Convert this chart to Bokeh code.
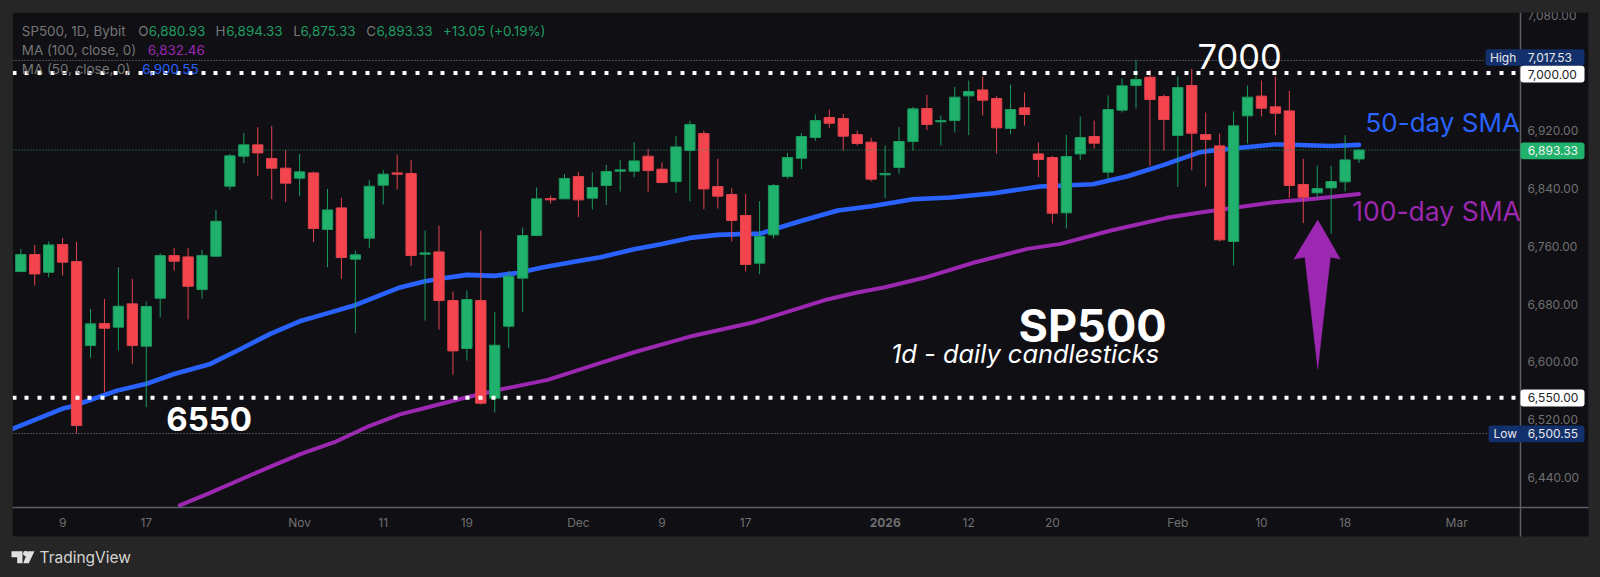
from bokeh.plotting import figure
from bokeh.models import (ColumnDataSource, FixedTicker, NumeralTickFormatter, Label, BoxAnnotation,
                          PolyAnnotation, Range1d)
from bokeh.embed import file_html
from bokeh.resources import INLINE

# ---------- data (prices) ----------
opens = [6725,6748.5,6724,6762.4,6738.8,6622.4,6652.9,6647.8,6680.2,6621.5,6688,6747.1,6745.3,6700,6746.2,6843.2,6884.8,6900.5,6881.6,6868.2,
         6854.3,6861.7,6783.2,6813.2,6742.1,6771.2,6844.6,6861.7,6860.8,6749,6752.2,6684.8,6618.3,6684.8,6549.5,6649.2,6715.8,6774.9,6826.1,6825.7,
         6856.6,6826.6,6844.2,6864,6864,6884.8,6866.8,6849.7,6892.7,6916.2,6842.8,6831.7,6802.6,6736.5,6775.8,6856.6,6882,6910.7,6938.4,6937,
         6914.8,6904.2,6859,6869.1,6905.2,6950.9,6932.4,6934.2,6968.4,6976.7,6964.7,6923.2,6951.8,6888,6883,6806.3,6888,6912.1,6862.7,6948.6,
         6982.7,6994.3,6967.5,6913.5,6982.7,6914.8,6899.1,6766.6,6940.7,6968,6953.2,6947.6,6845.6,6834,6840.9,6849.3,6880.93]
highs = [6756.4,6761.9,6766.5,6771.6,6766.1,6673.2,6687.1,6731,6714.8,6683.4,6750.4,6757.8,6757.8,6755,6810.4,6888,6917.1,6925,6926.8,6893.6,
         6888,6863.5,6839.5,6827,6754.1,6852,6865.9,6887.1,6879.7,6781.8,6788.7,6697.3,6698.7,6781.8,6669.1,6725.9,6786,6841.4,6830.3,6860.3,
         6863.1,6862.2,6872.8,6879.7,6904.2,6895,6876,6912.5,6933.8,6920.4,6881.1,6840.5,6832.2,6822.5,6846.5,6889.4,6917.1,6942.6,6949.5,6943.5,
         6920.4,6910.2,6899.6,6925,6953.2,6969.8,6941.2,6980.9,6989.7,6995.2,6968,6984.1,6973,6903.8,6885.3,6914.4,6939.8,6934.2,6968.9,6992.4,
         7017.53,7004.5,6970.3,6995.2,7005.8,6945.3,6916.2,6946.7,6982.7,6989.7,6995.2,6975.4,6881.1,6871.9,6871.4,6913.9,6894.33]
lows = [6724,6705.6,6717.1,6719.4,6500.55,6605.3,6557.8,6615.5,6597,6537,6661.7,6726.4,6658.5,6687.1,6746.2,6838.1,6875.1,6857.1,6825.2,6821.1,
        6829.4,6765.6,6731,6714.8,6639.5,6757.8,6817.8,6838.6,6732.8,6657.1,6644.6,6582.3,6601.7,6540.7,6529.6,6618.7,6668.6,6774,6819.2,6825.7,
        6800.3,6810.9,6816.9,6835.8,6855.7,6835.8,6847.4,6834,6822.4,6811.4,6812.3,6766.6,6725,6721.3,6770.7,6853.9,6866.8,6906.1,6924.1,6892.7,
        6899.6,6849.7,6826.6,6860.8,6892.7,6920.9,6899.6,6917.6,6913.9,6941.2,6888.5,6915.3,6927.3,6855.7,6791.5,6784.6,6879.7,6895.4,6852.5,6945.3,
        6950.9,6871.4,6892.7,6842.3,6865.4,6842.8,6766.6,6733.3,6902.4,6939.8,6913.9,6826.6,6792,6827.1,6777.2,6835.9,6875.33]
closes = [6748.5,6721.7,6761.9,6737.9,6511.6,6652.5,6646.4,6676.9,6622.4,6676.5,6747.1,6739.3,6704.6,6747.1,6794.7,6885.3,6900.5,6889.4,6868.2,6847.4,
          6863.1,6784.6,6810.4,6744.4,6748.1,6843.2,6859.9,6859.9,6747.2,6750.8,6684.8,6615,6686.2,6542.5,6622.9,6718.5,6774.9,6825.7,6824.3,6853.9,
          6824.3,6841.4,6863.6,6865.9,6878.3,6864.9,6848.3,6897.7,6928.7,6839.5,6829.4,6795.7,6734.7,6773.5,6844.2,6883,6912.1,6934.2,6930.5,6912.5,
          6902.4,6853,6860.8,6905.2,6950.4,6928.7,6934.2,6966.6,6974.4,6962.4,6924.1,6949.5,6942.6,6880.2,6805.8,6884.4,6910.7,6902.8,6949.5,6982.3,
          6991.1,6963.3,6935.6,6980,6916.7,6907.9,6768.9,6926.9,6966.6,6951.3,6944.4,6844.2,6828,6840,6849.7,6879.7,6893.33]

ma50_x = [-0.6,3.1,3.7,6.9,9.1,11,13.6,15.7,17.9,20,22.1,23.9,27.2,29,30.3,32,34,35.6,37.5,40.1,41.6,44,46,48,50,52.1,53,54.5,55.9,
          58.6,61,64,66.7,69.8,73.1,76.9,79.4,82,84.6,85.1,87.5,89.9,90.6,94,96]
ma50_y = [6507,6535.6,6538.4,6560,6570,6583,6597,6617,6638.6,6656,6667.7,6677.9,6703,6711.6,6715.8,6720.4,6719,6723,6731,6739.8,6744.8,6756,6763.3,6771.6,6775.8,6777.2,6777.2,6786.4,6794.7,
          6809.5,6815.5,6825.2,6827.5,6833.5,6842.8,6846,6857.1,6872.8,6890.4,6891.8,6896.4,6901,6901,6899,6900.55]
ma100_x = [11.4,13.4,17.7,20.1,22.5,24.8,27.2,29.2,32,34.4,37.8,41.6,44,48,52.6,55.9,57.85,60,62,64.8,68.4,72.2,74.6,78.2,82.2,84.6,89.9,93,96]
ma100_y = [6401,6416.9,6452.9,6472.3,6488.5,6509.3,6527,6537,6550.8,6561.5,6574.9,6598.4,6613.2,6634.9,6654.8,6674.6,6686.3,6696,6703.3,6716.3,6737.5,6756.4,6763.3,6781.8,6799.4,6806.8,6821,6826.2,6832.46]

time_ticks = [3,9,20,26,32,40,46,52,62,68,74,83,89,95,103]
time_labels = ["9","17","Nov","11","19","Dec","9","17","","12","20","Feb","10","18","Mar"]
price_ticks = [7080,6920,6840,6760,6680,6600,6520,6440]
levels = [7000, 6550]
high_price, low_price, last_price = 7017.53, 6500.55, 6893.33

# ---------- page-pixel <-> scale helpers ----------
X0, DX, Y0, DY = 20.3, 13.94, 130.3, 1.3856
def fx(px): return (px - X0) / DX
def fy(py): return 6920 - (py - Y0) * DY

BG = "#0f0f14"; OUTER = "#262626"; GRID = "#1f2026"; AX = "#5d5f66"; TICK = "#707070"
GREEN = "#20b26c"; RED = "#f4454f"; BLUE = "#2962ff"; PURPLE = "#9c27b0"; NAVY = "#12306b"
F = "Inter"

p = figure(width=1600, height=577, output_backend="svg", toolbar_location=None, tools="",
           x_range=Range1d(fx(0), fx(1600)), y_range=Range1d(fy(577), fy(0)),
           y_axis_location="right", min_border_left=0, min_border_right=0, min_border_top=0, min_border_bottom=0,
           background_fill_color=OUTER, border_fill_color=OUTER, outline_line_color=None)

def box(l, r, t, b, c, rad=0, level="annotation"):
    p.add_layout(BoxAnnotation(left=l, right=r, top=t, bottom=b, left_units="canvas", right_units="canvas",
                               top_units="canvas", bottom_units="canvas", fill_color=c, fill_alpha=1,
                               line_alpha=0, border_radius=rad, level=level))

# chart panel
box(12, 1588, 12, 536, BG, level="underlay")

# axes / grid
ya = p.yaxis[0]; xa = p.xaxis[0]
ya.ticker = FixedTicker(ticks=price_ticks)
ya.formatter = NumeralTickFormatter(format="0,0.00")
ya.fixed_location = fx(1520)
ya.bounds = (fy(536), fy(12))
xa.ticker = FixedTicker(ticks=time_ticks)
xa.major_label_overrides = dict(zip(time_ticks, time_labels))
xa.fixed_location = fy(507)
xa.bounds = (fx(12), fx(1588))
for a in (xa, ya):
    a.axis_line_color = AX
    a.axis_line_width = 1.5
    a.major_tick_line_color = None
    a.minor_tick_line_color = None
    a.major_label_text_color = TICK
    a.major_label_text_font = F
    a.major_label_text_font_size = "12px"
ya.major_label_standoff = 1
xa.major_label_standoff = 1
p.xgrid.ticker = FixedTicker(ticks=time_ticks)
p.ygrid.ticker = FixedTicker(ticks=price_ticks + [7000])
p.xgrid.grid_line_color = GRID; p.ygrid.grid_line_color = GRID

# panels that hide the grid outside the plotting area (painted over the grid, under the marks)
box(12, 1588, 507, 536, BG, level="glyph")
box(1520, 1588, 12, 536, BG, level="glyph")
box(0, 1600, 536, 577, OUTER, level="glyph")
box(1588, 1600, 0, 577, OUTER, level="glyph")
box(0, 12, 0, 577, OUTER, level="glyph")

# moving averages under the candles
p.line(ma100_x, ma100_y, line_color=PURPLE, line_width=4, line_cap="round", line_join="round")
p.line(ma50_x, ma50_y, line_color=BLUE, line_width=4.6, line_cap="round", line_join="round")

# candles
idx = list(range(len(opens)))
up = [c >= o for o, c in zip(opens, closes)]
src = ColumnDataSource(dict(x=idx, o=opens, h=highs, l=lows, c=closes,
    top=[max(o, c) for o, c in zip(opens, closes)], bot=[min(o, c) for o, c in zip(opens, closes)],
    fill=[GREEN if u else RED for u in up], edge=["#1b9a5e" if u else "#e2434d" for u in up]))
p.segment("x", "h", "x", "l", source=src, line_color="edge", line_width=1)
p.vbar("x", 0.74, "top", "bot", source=src, fill_color="fill", line_color="edge", line_width=1)

# price lines
xs_full = [fx(12), fx(1518)]
p.line([fx(12), fx(1520)], [last_price]*2, line_color="#1f9d62", line_width=1, line_dash="1 2")
p.line([fx(12), fx(1485)], [high_price]*2, line_color="#8a8a8a", line_width=1, line_dash="1 2")
p.line([fx(12), fx(1488)], [low_price]*2, line_color="#8a8a8a", line_width=1, line_dash="1 2")
for lv in levels:
    p.line(xs_full, [lv]*2, line_color="#ffffff", line_width=4, line_dash="4 8 4 9 4 9 4 8 4 9")

# arrow
arrow_x = [93.04, 94.66, 93.95, 93.04, 92.11, 91.32]
arrow_y = [6796.7, 6742.1, 6744.9, 6589.3, 6744.9, 6742.1]
p.add_layout(PolyAnnotation(xs=arrow_x, ys=arrow_y, fill_color=PURPLE, fill_alpha=1, line_color=PURPLE, line_width=1, line_join="round"))

def text(s, x, y, size, color, style="normal", align="left"):
    p.add_layout(Label(x=x, y=y, x_units="canvas", y_units="canvas", text=s, text_color=color, text_font=F,
                       text_font_size=f"{size}px", text_font_style=style, text_align=align, text_baseline="middle"))

# masks that reproduce the panel's clipping at its edges
box(0, 12, 0, 577, OUTER)
box(0, 1600, 0, 12, OUTER)

# tags on the price scale
for l, r, t, b, c in [(1485, 1584, 48.7, 65.3, NAVY), (1520, 1584, 65.3, 82, "#ffffff"),
                      (1520, 1584, 142, 158.7, GREEN), (1520, 1584, 389, 406, "#ffffff"),
                      (1488, 1584, 425, 441.7, NAVY)]:
    box(l, r, t, b, c, 3)
text("High", 1489.5, 57, 12, "#e8e8e8")
text("7,017.53", 1527.3, 57, 12, "#e8e8e8")
text("7,000.00", 1527.3, 73.6, 12, "#222222")
text("6,893.33", 1527.3, 150.3, 12, "#f0f0f0")
text("6,550.00", 1527.3, 397.3, 12, "#222222")
text("Low", 1493, 433.4, 12, "#e8e8e8")
text("6,500.55", 1527.3, 433.2, 12, "#e8e8e8")

# header legend
GL = "#767676"
for s, x, c in [("SP500, 1D, Bybit", 21.3, GL), ("O", 137.7, GL), ("6,880.93", 148.3, "#1f9d62"), ("H", 215, GL),
                ("6,894.33", 225.7, "#1f9d62"), ("L", 292.7, GL), ("6,875.33", 300, "#1f9d62"), ("C", 365.7, GL),
                ("6,893.33", 376, "#1f9d62"), ("+13.05 (+0.19%)", 442.5, "#1f9d62")]:
    text(s, x, 30, 13.4, c)
text("MA (100, close, 0)", 21.3, 49.5, 13.4, GL)
text("6,832.46", 147.3, 49.5, 13.4, PURPLE)
text("MA (50, close, 0)", 21.3, 68.7, 13.4, GL)
text("6,900.55", 141.7, 68.7, 13.4, BLUE)

# annotations
text("7000", 1197, 56, 34.5, "#ffffff")
text("6550", 165.7, 418, 33, "#ffffff", "bold")
text("SP500", 1018, 324.5, 45, "#ffffff", "bold")
text("1d - daily candlesticks", 890.5, 353, 25.4, "#ffffff", "italic")
text("50-day SMA", 1365, 122.4, 26, BLUE)
text("100-day SMA", 1351.7, 210.5, 26.5, PURPLE)
text("2026", 884.7, 521.8, 12, TICK, "bold", align="center")

# TradingView mark
logo = [[(11, 550.7), (22, 550.7), (22, 562.7), (16.7, 562.7), (16.7, 556.7), (11, 556.7)],
        [(27.3, 550.7), (34, 550.7), (28.3, 562.7), (22.7, 562.7)],
        [(22.5, 553), (23.3, 551), (25.3, 550.2), (27, 551), (27.5, 553), (27, 555), (25, 555.8), (23.2, 555)]]
for poly in logo:
    p.add_layout(PolyAnnotation(xs=[a for a, _ in poly], ys=[b for _, b in poly], xs_units="canvas", ys_units="canvas",
                                fill_color="#e0e0e0", fill_alpha=1, line_alpha=0))
text("TradingView", 39, 557.3, 15.5, "#d4d4d4")

html = file_html(p, INLINE)
html = html.replace("<head>", "<head><style>html,body{background:#262626;}</style>", 1)
open("out.html", "w").write(html)
